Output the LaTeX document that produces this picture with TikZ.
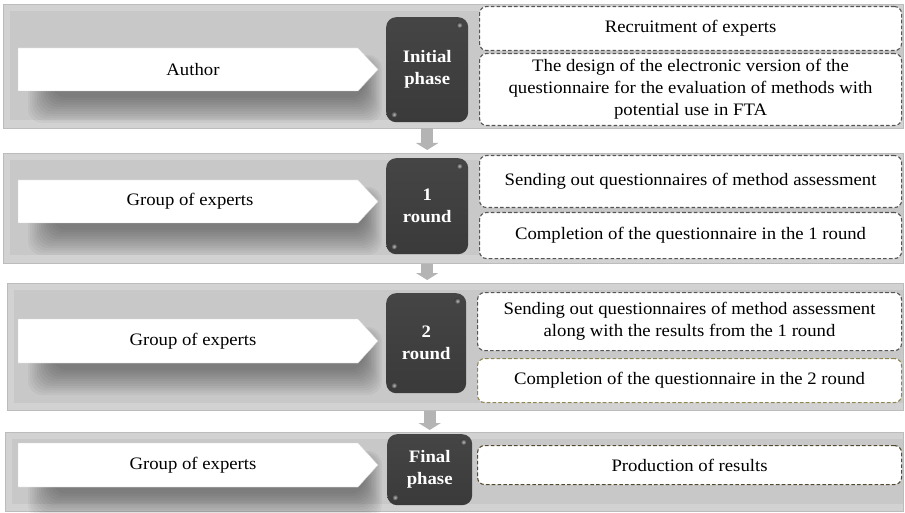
\documentclass[tikz,border=0pt]{standalone}
\usepackage{fontspec}
\setmainfont{Liberation Serif}[FakeStretch=1.07]
\usetikzlibrary{arrows.meta,calc}
\definecolor{bandout}{HTML}{D2D2D2}
\definecolor{bandin}{HTML}{C8C8C8}
\definecolor{bandline}{HTML}{BCBCBC}
\definecolor{darkbox}{HTML}{3A3A3A}
\definecolor{darktop}{HTML}{454545}
\definecolor{dashgray}{HTML}{555555}
\definecolor{dasholive}{HTML}{8E8650}
\definecolor{dashbrown}{HTML}{524A30}
\definecolor{arrowgray}{HTML}{B4B4B4}
\begin{document}
\begin{tikzpicture}[x=1pt,y=-1pt,
  txt/.style={font=\fontsize{17.5}{22}\selectfont, align=center, text=black, inner sep=0pt},
  bandbox/.style={draw=bandline, fill=bandout, line width=0.5pt, anchor=north west, inner sep=0pt, minimum width=900pt},
  phasebox/.style={top color=darktop, bottom color=darkbox, rounded corners=10pt, anchor=north west, inner sep=0pt, text=white, align=center, font=\fontsize{17.5}{22}\selectfont\bfseries},
  taskbox/.style={draw=dashgray, dash pattern=on 3.6pt off 2.2pt, line width=1.1pt, fill=white, rounded corners=7pt, anchor=north west, inner sep=0pt, align=center, font=\fontsize{17.5}{22}\selectfont},
  flow/.style={draw=arrowgray, line width=12pt, -{Triangle[length=7pt,width=22pt]}},
  whitearrow/.style={fill=white, draw=gray!35, line width=0.4pt},
  glint/.style={inner color=gray!55, outer color=darkbox},
  shadowlayer/.style={fill=black, opacity=0.037, rounded corners=14pt},
]
\useasboundingbox (0,0) rectangle (905,513);
\fill[white] (0,0) rectangle (905,513);

% bands
\node[bandbox, minimum height=124pt] (b1) at (3,4) {};
\node[bandbox, minimum height=110pt] (b2) at (3,153) {};
\node[bandbox, minimum height=127pt, minimum width=896pt] (b3) at (7,283) {};
\node[bandbox, minimum height=79pt, minimum width=898pt] (b4) at (5,432) {};
\foreach \b in {b1,b2,b3,b4}{
  \fill[bandin] ([shift={(7,7)}]\b.north west) rectangle ([shift={(-1,-8)}]\b.south east);
}

% soft shadows under the white arrows (bottom edge y = 91, 223, 363, 487)
\foreach \yb in {91,223,363,487}{
  \foreach \i in {0,...,11}{
    \fill[shadowlayer] (28+\i*2.2, \yb-36+\i) rectangle (382-\i*1.6, \yb+32-\i*2.3);
  }
}

% white arrows
\path[whitearrow] (18,48) -- (358,48) -- (378,69.5) -- (358,91) -- (18,91) -- cycle;
\path[whitearrow] (18,180) -- (358,180) -- (378,201.5) -- (358,223) -- (18,223) -- cycle;
\path[whitearrow] (18,319) -- (358,319) -- (378,341) -- (358,363) -- (18,363) -- cycle;
\path[whitearrow] (18,443) -- (358,443) -- (378,465) -- (358,487) -- (18,487) -- cycle;
\node[txt] (l1) at (193,69.5) {Author};
\node[txt] (l2) at (190,201.5) {Group of experts};
\node[txt] (l3) at (193,341) {Group of experts};
\node[txt] (l4) at (193,465) {Group of experts};

% phase boxes
\node[phasebox, minimum width=82pt, minimum height=105pt] (d1) at (386,17) {Initial\\phase};
\node[phasebox, minimum width=82pt, minimum height=96pt] (d2) at (386,158) {1\\round};
\node[phasebox, minimum width=80pt, minimum height=100pt] (d3) at (386,293) {2\\round};
\node[phasebox, minimum width=85pt, minimum height=71pt] (d4) at (387,434) {Final\\phase};
\foreach \d in {d1,d2,d3,d4}{
  \shade[glint] ([shift={(-9,8)}]\d.north east) circle (3pt);
  \shade[glint] ([shift={(8,-8)}]\d.south west) circle (3pt);
}

% task boxes
\node[taskbox, minimum width=422pt, minimum height=44pt] (t1) at (479,6) {Recruitment of experts};
\node[taskbox, minimum width=422pt, minimum height=72pt] (t2) at (479,53) {The design of the electronic version of the\\questionnaire for the evaluation of methods with\\potential use in FTA};
\node[taskbox, minimum width=422pt, minimum height=52pt] (t3) at (479,155) {Sending out questionnaires of method assessment};
\node[taskbox, minimum width=422pt, minimum height=46pt] (t4) at (479,212) {Completion of the questionnaire in the 1 round};
\node[taskbox, minimum width=424pt, minimum height=58pt] (t5) at (477,292) {Sending out questionnaires of method assessment\\along with the results from the 1 round};
\node[taskbox, draw=dasholive, minimum width=424pt, minimum height=44pt] (t6) at (477,358) {Completion of the questionnaire in the 2 round};
\node[taskbox, draw=dashbrown, minimum width=424pt, minimum height=39pt] (t7) at (477,445) {Production of results};

% flow arrows
\draw[flow, shorten >=3pt] (b1.south -| d1.south) -- (b2.north -| d1.south);
\draw[flow, shorten >=3pt] (b2.south -| d2.south) -- (b3.north -| d2.south);
\draw[flow, shorten >=2pt] (b3.south -| d4.south) -- (b4.north -| d4.south);
\end{tikzpicture}
\end{document}
